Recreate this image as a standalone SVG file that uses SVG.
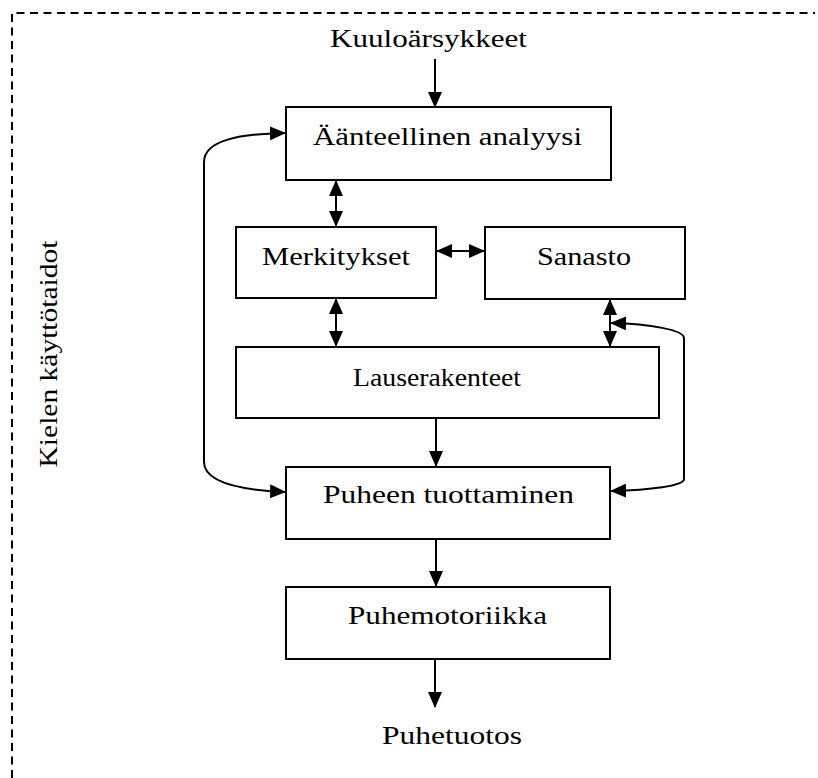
<svg xmlns="http://www.w3.org/2000/svg" width="818" height="778" viewBox="0 0 818 778">
  <style>
    .box { fill: #ffffff; stroke: #000000; stroke-width: 2; }
    .lbl { font-family: "Liberation Serif", "Times New Roman", serif; font-size: 25px; fill: #000000; text-anchor: middle; }
    .edge { fill: none; stroke: #000000; stroke-width: 2; }
    .frame { fill: none; stroke: #000000; stroke-width: 2; stroke-dasharray: 8 5.5; }
  </style>
  <defs>
    <marker id="head" markerUnits="userSpaceOnUse" markerWidth="16" markerHeight="14" refX="15" refY="7" orient="auto-start-reverse" viewBox="0 0 16 14">
      <path d="M0,0 L16,7 L0,14 z" fill="#000000"/>
    </marker>
  </defs>
  <rect width="818" height="778" fill="#ffffff"/>

  <!-- dashed frame: top and left edge only -->
  <path class="frame" d="M12,778 L12,13 L815,13"/>

  <!-- side caption -->
  <text class="lbl" transform="translate(57,354) rotate(-90)" textLength="227" lengthAdjust="spacingAndGlyphs">Kielen käyttötaidot</text>

  <!-- input and output labels -->
  <text class="lbl" x="428.5" y="47" textLength="197" lengthAdjust="spacingAndGlyphs">Kuuloärsykkeet</text>
  <text class="lbl" x="452" y="744" textLength="140" lengthAdjust="spacingAndGlyphs">Puhetuotos</text>

  <g id="connectors">
    <line class="edge" x1="435" y1="59" x2="435" y2="107" marker-end="url(#head)"/>
    <line class="edge" x1="336" y1="181" x2="336" y2="226" marker-start="url(#head)" marker-end="url(#head)"/>
    <line class="edge" x1="437" y1="251" x2="484" y2="251" marker-start="url(#head)" marker-end="url(#head)"/>
    <line class="edge" x1="336" y1="299" x2="336" y2="346" marker-start="url(#head)" marker-end="url(#head)"/>
    <line class="edge" x1="610" y1="300" x2="610" y2="346" marker-start="url(#head)" marker-end="url(#head)"/>
    <line class="edge" x1="436" y1="419" x2="436" y2="466" marker-end="url(#head)"/>
    <line class="edge" x1="436" y1="540" x2="436" y2="586" marker-end="url(#head)"/>
    <line class="edge" x1="435" y1="660" x2="435" y2="707" marker-end="url(#head)"/>
    <!-- left feedback loop -->
    <path class="edge" d="M285,133 C240,134 204,140 204,162 L204,462 C204,482 240,490 285,492" marker-start="url(#head)" marker-end="url(#head)"/>
    <!-- right loop from the lexicon link to speech production -->
    <path class="edge" d="M611,323 C650,324 684,330 684,338 L684,479 C684,486 650,490 611,491" marker-start="url(#head)" marker-end="url(#head)"/>
  </g>

  <g id="n-analyysi">
    <rect class="box" x="286" y="107" width="325" height="73"/>
    <text class="lbl" x="447.5" y="145" textLength="269" lengthAdjust="spacingAndGlyphs">Äänteellinen analyysi</text>
  </g>
  <g id="n-merkitykset">
    <rect class="box" x="236" y="227" width="200" height="71"/>
    <text class="lbl" x="336" y="265" textLength="148" lengthAdjust="spacingAndGlyphs">Merkitykset</text>
  </g>
  <g id="n-sanasto">
    <rect class="box" x="485" y="227" width="200" height="72"/>
    <text class="lbl" x="584" y="265" textLength="94" lengthAdjust="spacingAndGlyphs">Sanasto</text>
  </g>
  <g id="n-lauserakenteet">
    <rect class="box" x="236" y="347" width="423" height="71"/>
    <text class="lbl" x="437" y="386" textLength="168" lengthAdjust="spacingAndGlyphs">Lauserakenteet</text>
  </g>
  <g id="n-tuottaminen">
    <rect class="box" x="286" y="467" width="324" height="72"/>
    <text class="lbl" x="448.5" y="503" textLength="251" lengthAdjust="spacingAndGlyphs">Puheen tuottaminen</text>
  </g>
  <g id="n-puhemotoriikka">
    <rect class="box" x="286" y="587" width="324" height="72"/>
    <text class="lbl" x="447.5" y="624" textLength="199" lengthAdjust="spacingAndGlyphs">Puhemotoriikka</text>
  </g>
</svg>
